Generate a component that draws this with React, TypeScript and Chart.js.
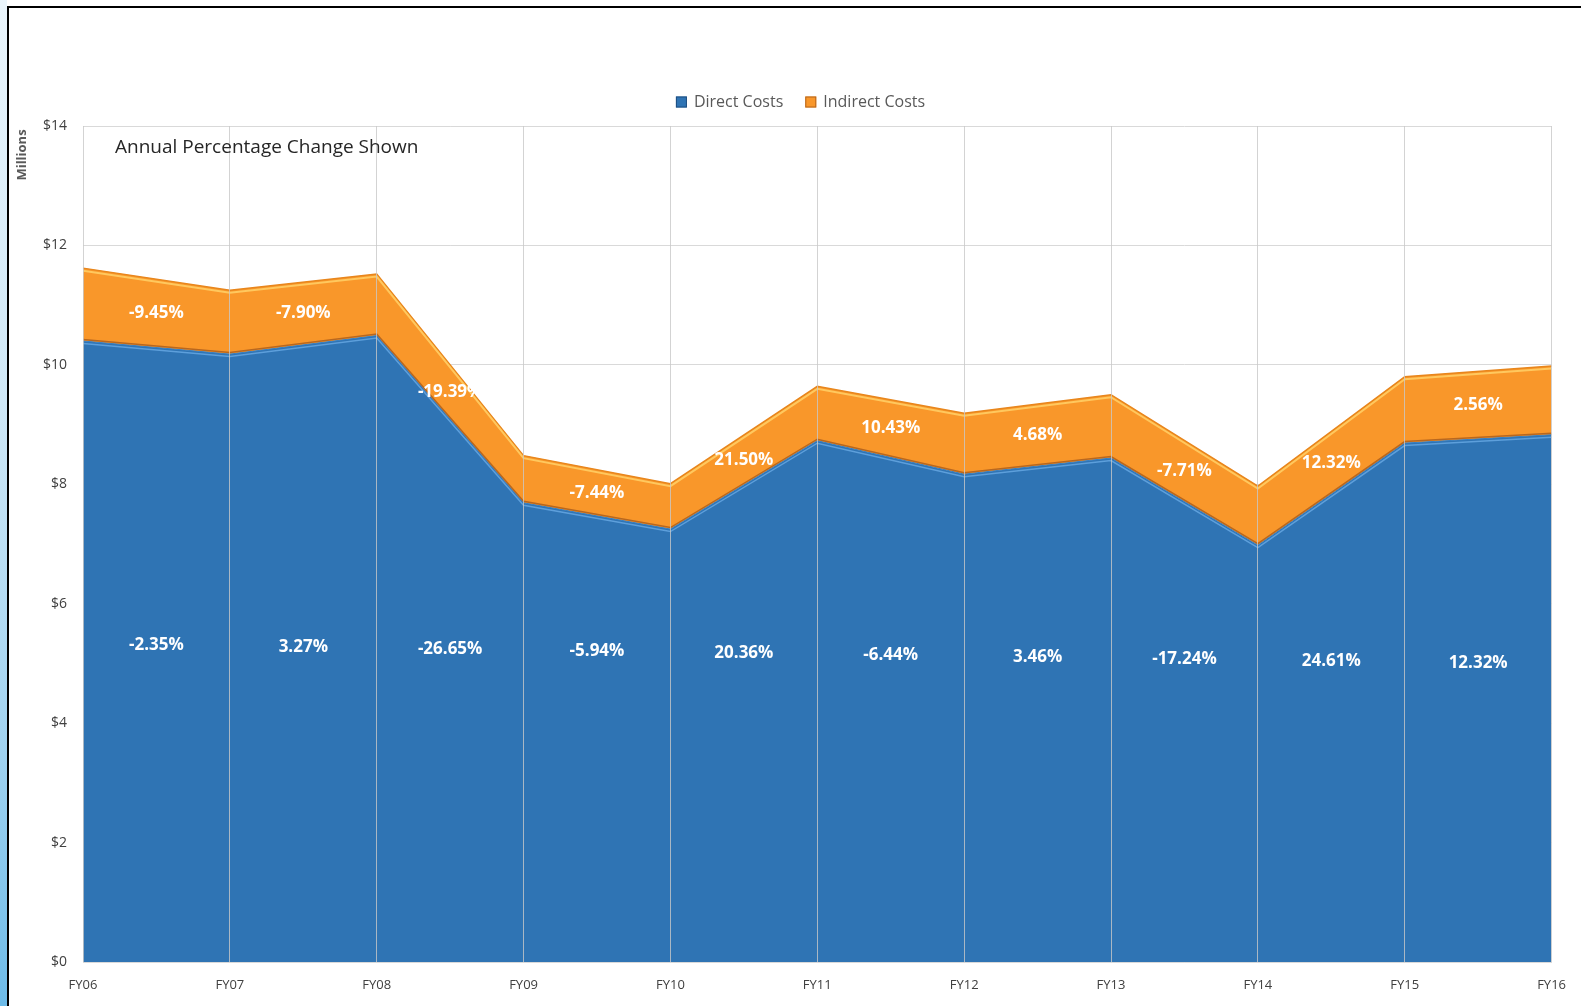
import React, { useEffect, useRef } from "react";
import { Chart, registerables } from "chart.js";

Chart.register(...registerables);

const CATEGORIES = ["FY06", "FY07", "FY08", "FY09", "FY10", "FY11", "FY12", "FY13", "FY14", "FY15", "FY16"];
const DIRECT_COSTS = [10.4, 10.18, 10.49, 7.69, 7.25, 8.73, 8.17, 8.44, 6.98, 8.69, 8.83];
const INDIRECT_COSTS = [1.22, 1.07, 1.03, 0.79, 0.76, 0.91, 1.02, 1.06, 0.99, 1.11, 1.15];
const DIRECT_CHANGE = ["-2.35%", "3.27%", "-26.65%", "-5.94%", "20.36%", "-6.44%", "3.46%", "-17.24%", "24.61%", "12.32%"];
const INDIRECT_CHANGE = ["-9.45%", "-7.90%", "-19.39%", "-7.44%", "21.50%", "10.43%", "4.68%", "-7.71%", "12.32%", "2.56%"];
const SERIES_NAMES = ["Direct Costs", "Indirect Costs"];
const Y_MIN = 0;
const Y_MAX = 14;
const Y_STEP = 2;
const NOTE = "Annual Percentage Change Shown";
const Y_UNIT = "Millions";

const FONT = "'Open Sans', 'DejaVu Sans', sans-serif";
const BLUE = "#2f74b4";
const ORANGE = "#f9972a";

const bevelPlugin = {
  id: "bevel",
  afterDatasetsDraw(chart: any) {
    const ctx = chart.ctx;
    const m0 = chart.getDatasetMeta(0);
    const m1 = chart.getDatasetMeta(1);
    const area = chart.chartArea;
    ctx.save();
    ctx.beginPath();
    ctx.rect(area.left, area.top, area.right - area.left, area.bottom - area.top);
    ctx.clip();
    const line = (pts: any[], dy: number, color: string, w: number) => {
      ctx.beginPath();
      pts.forEach((p: any, i: number) => {
        if (i === 0) ctx.moveTo(p.x, p.y + dy);
        else ctx.lineTo(p.x, p.y + dy);
      });
      ctx.strokeStyle = color;
      ctx.lineWidth = w;
      ctx.stroke();
    };
    line(m0.data, 2.5, "#5d9fdb", 1.5);
    line(m0.data, -1.5, "#b8671f", 1.5);
    line(m1.data, 2.5, "#ffc85e", 2);
    ctx.restore();
  },
};

const textPlugin = {
  id: "texts",
  afterDraw(chart: any) {
    const ctx = chart.ctx;
    const xs = chart.scales.x;
    const ys = chart.scales.y;
    ctx.save();
    ctx.fillStyle = "#ffffff";
    ctx.font = `bold 17px ${FONT}`;
    ctx.textAlign = "center";
    ctx.textBaseline = "middle";
    for (let i = 0; i < CATEGORIES.length - 1; i++) {
      const x = (xs.getPixelForValue(i) + xs.getPixelForValue(i + 1)) / 2;
      const dLevel = 5.3 - 0.032 * i;
      ctx.fillText(DIRECT_CHANGE[i], x, ys.getPixelForValue(dLevel));
      const midA = DIRECT_COSTS[i] + INDIRECT_COSTS[i] / 2;
      const midB = DIRECT_COSTS[i + 1] + INDIRECT_COSTS[i + 1] / 2;
      ctx.fillText(INDIRECT_CHANGE[i], x, ys.getPixelForValue((midA + midB) / 2));
    }
    ctx.fillStyle = "#262626";
    ctx.font = `19px ${FONT}`;
    ctx.textAlign = "left";
    ctx.fillText(NOTE, chart.chartArea.left + 32, chart.chartArea.top + 22);
    ctx.save();
    ctx.translate(22, chart.chartArea.top + 29);
    ctx.rotate(-Math.PI / 2);
    ctx.fillStyle = "#595959";
    ctx.font = `bold 13px ${FONT}`;
    ctx.textAlign = "center";
    ctx.fillText(Y_UNIT, 0, 0);
    ctx.restore();
    ctx.font = `16px ${FONT}`;
    const box = 11;
    const gap = 7;
    const between = 22;
    const w1 = ctx.measureText(SERIES_NAMES[0]).width;
    const w2 = ctx.measureText(SERIES_NAMES[1]).width;
    const total = box + gap + w1 + between + box + gap + w2;
    let x = chart.width / 2 + 10 - total / 2;
    const cy = chart.chartArea.top - 24;
    const colors = [
      [BLUE, "#1f4f80"],
      [ORANGE, "#b5651d"],
    ];
    [w1, w2].forEach((w, i) => {
      ctx.fillStyle = colors[i][0];
      ctx.fillRect(x, cy - box / 2, box, box);
      ctx.strokeStyle = colors[i][1];
      ctx.lineWidth = 1;
      ctx.strokeRect(x + 0.5, cy - box / 2 + 0.5, box - 1, box - 1);
      ctx.fillStyle = "#595959";
      ctx.textAlign = "left";
      ctx.textBaseline = "middle";
      ctx.fillText(SERIES_NAMES[i], x + box + gap, cy);
      x += box + gap + w + between;
    });
    ctx.restore();
  },
};

export default function App() {
  const canvasRef = useRef<HTMLCanvasElement | null>(null);

  useEffect(() => {
    document.body.style.margin = "0";
    const canvas = canvasRef.current;
    if (!canvas) return;
    const chart = new Chart(canvas, {
      type: "line",
      data: {
        labels: CATEGORIES,
        datasets: [
          {
            label: SERIES_NAMES[0],
            data: DIRECT_COSTS,
            backgroundColor: BLUE,
            borderColor: "#3a7fc0",
            borderWidth: 1,
            fill: "origin",
            pointRadius: 0,
            tension: 0,
          },
          {
            label: SERIES_NAMES[1],
            data: INDIRECT_COSTS,
            backgroundColor: ORANGE,
            borderColor: "#e8861c",
            borderWidth: 1.5,
            fill: "-1",
            pointRadius: 0,
            tension: 0,
          },
        ],
      },
      options: {
        responsive: false,
        animation: false,
        layout: { padding: { top: 126, left: 0, right: 28, bottom: 0 } },
        plugins: {
          legend: { display: false },
          tooltip: { enabled: false },
        },
        scales: {
          x: {
            offset: false,
            z: 1,
            grid: { color: "rgba(200,200,200,0.8)", lineWidth: 1, drawTicks: false, z: 1 },
            border: { color: "#d9d9d9", z: 1 },
            ticks: {
              color: "#404040",
              font: { family: FONT, size: 13 },
              padding: 15,
              maxRotation: 0,
              autoSkip: false,
            },
            afterFit(scale: any) {
              scale.height = 44;
            },
          },
          y: {
            stacked: true,
            min: Y_MIN,
            max: Y_MAX,
            grid: { color: "#d9d9d9", lineWidth: 1, drawTicks: false },
            border: { display: false },
            ticks: {
              stepSize: Y_STEP,
              color: "#404040",
              font: { family: FONT, size: 14 },
              padding: 16,
              callback: (v: any) => `$${v}`,
            },
            afterFit(scale: any) {
              scale.width = 83;
            },
          },
        },
      },
      plugins: [bevelPlugin, textPlugin],
    });
    return () => chart.destroy();
  }, []);

  return (
    <div style={{ position: "relative", width: 1581, height: 1006, overflow: "hidden", background: "#fff" }}>
      <div
        style={{
          position: "absolute",
          left: 0,
          top: 0,
          width: 7,
          height: 1006,
          background: "linear-gradient(180deg, #eaf5fc 0%, #cfe8f7 40%, #9fd2f0 75%, #6dbbe8 100%)",
        }}
      />
      <div
        style={{
          position: "absolute",
          left: 7,
          top: 6,
          right: -4,
          bottom: -4,
          borderLeft: "2px solid #000",
          borderTop: "2px solid #000",
        }}
      />
      <canvas ref={canvasRef} width={1581} height={1006} style={{ position: "absolute", left: 0, top: 0 }} />
    </div>
  );
}
